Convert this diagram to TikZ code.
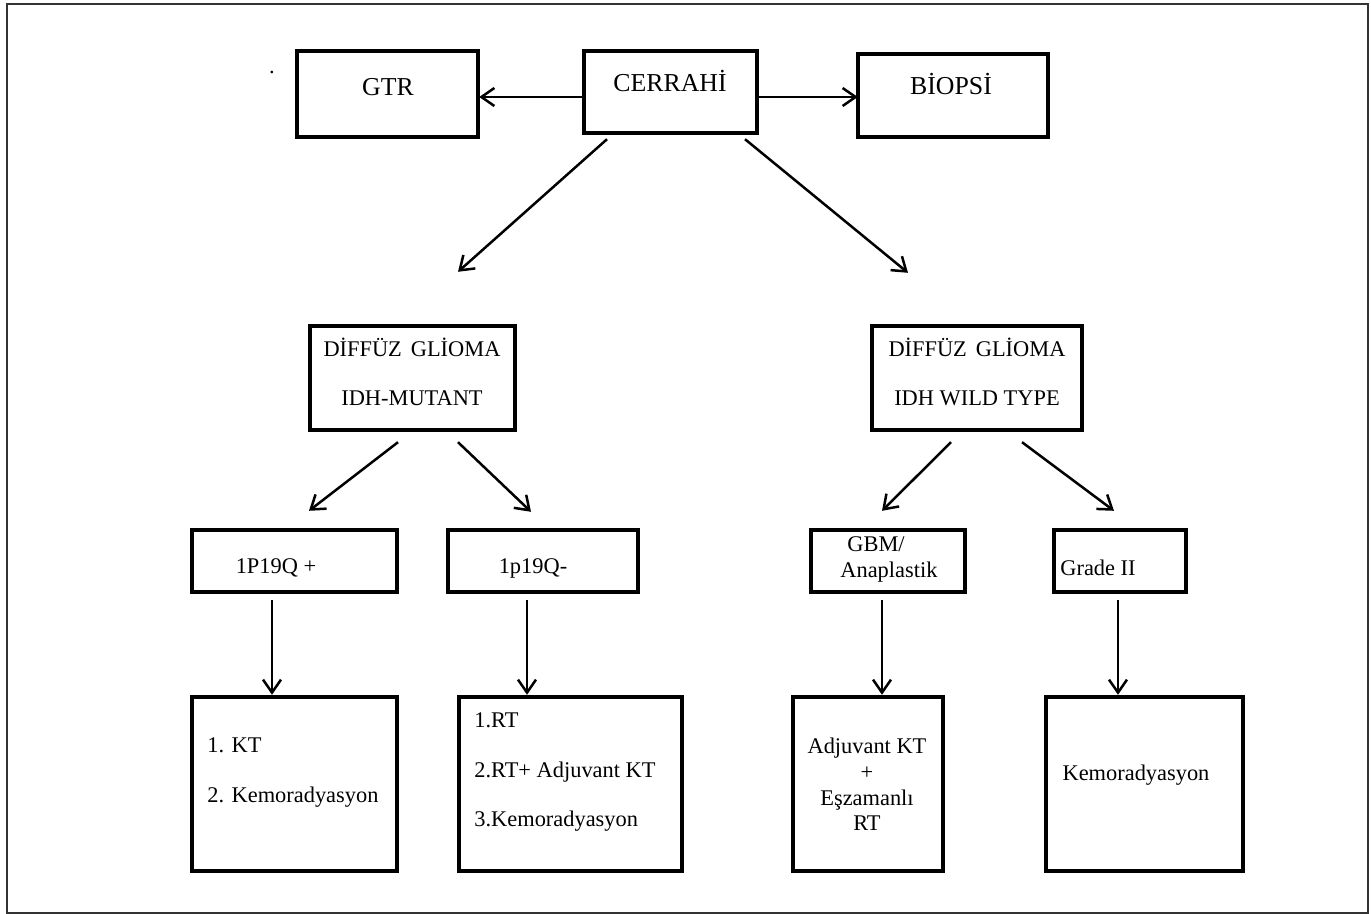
\documentclass[tikz,border=0pt]{standalone}
\usepackage{fontspec}
\setmainfont{Liberation Serif}
\usetikzlibrary{arrows.meta,calc}

\begin{document}
\begin{tikzpicture}
[x=0.5pt,y=-0.5pt,
  boxDecorate/.style={shape=rectangle,draw,line width=1.8pt,inner sep=0pt,outer sep=0pt},
  arrowDecorate/.style={line width=1.25pt,-{Straight Barb[length=6.5pt,width=9pt]}},
  textDecorate/.style={inner sep=0pt,font=\fontsize{11.2}{24.5}\selectfont},
  topText/.style={inner sep=0pt,font=\fontsize{12.9}{15}\selectfont}]
\useasboundingbox (0,0) rectangle (1371,914);
\draw[line width=0.8pt,black!80] (7,4) rectangle (1368,913);
%% boxes
\foreach \nodename/\x/\y/\w/\h in {
  gtr/387.5/94/185/90,
  cerrahi/670.5/92/177/86,
  biopsi/953/95.5/194/87,
  mutant/412.5/378/209/108,
  wild/977/378/214/108,
  p19plus/294.5/561/209/66,
  p19minus/543/561/194/66,
  gbm/888/561/158/66,
  grade/1120/561/136/66,
  kt/294.5/784/209/178,
  rt/570.5/784/227/178,
  adj/868/784/154/178,
  kemo/1144.5/784/201/178}
{
  \node (\nodename) at (\x,\y) [boxDecorate,minimum width=(\w-3.6)*0.5pt,minimum height=(\h-3.6)*0.5pt] {};
}
%% texts
\node (dot) at (272,72) [textDecorate] {.};
\node (gtr-t) at (388,87) [topText] {GTR};
\node (cerrahi-t) at (670,81) [topText] {CERRAHİ};
\node (biopsi-t) at (951,84) [topText] {BİOPSİ};
\node (mutant-t) at (412,371.5) [textDecorate,align=center] {DİFFÜZ\hspace{0.4em}GLİOMA\\IDH-MUTANT};
\node (wild-t) at (977,371.5) [textDecorate,align=center] {DİFFÜZ\hspace{0.4em}GLİOMA\\IDH WILD TYPE};
\node (p19plus-t) at (276,568) [textDecorate] {1P19Q +};
\node (p19minus-t) at (533,568) [textDecorate] {1p19Q-};
\node (gbm-t) at (840,559) [textDecorate,anchor=west,align=left,font=\fontsize{11.2}{13}\selectfont] {\hspace{3.5pt}GBM/\\Anaplastik};
\node (grade-t) at (1098,568) [textDecorate] {Grade II};
\node (kt-t) at (207,773) [textDecorate,anchor=west,align=left,font=\fontsize{11.2}{25}\selectfont] {1. KT\\2. Kemoradyasyon};
\node (rt-t) at (474,772.5) [textDecorate,anchor=west,align=left,font=\fontsize{11.2}{24.75}\selectfont] {1.RT\\2.RT+ Adjuvant KT\\3.Kemoradyasyon};
\node (adj-t) at (867,784.5) [textDecorate,align=center,font=\fontsize{11.2}{12.8}\selectfont] {Adjuvant KT\\+\\Eşzamanlı\\RT};
\node (kemo-t) at (1136,775) [textDecorate] {Kemoradyasyon};
%% arrows
\foreach \startnode/\dxa/\dya/\endnode/\dxb/\dyb in {
  cerrahi.west/0/5/gtr.east/1/3,
  cerrahi.east/1/5/biopsi.west/0/1.5,
  cerrahi.south/-63.5/6/mutant.north/45.5/-54,
  cerrahi.south/74.5/6/wild.north/-69/-53,
  mutant.south/-14.5/12/p19plus.north/14.5/-19,
  mutant.south/45.5/12/p19minus.north/-12/-18,
  wild.south/-26/12/gbm.north/-6/-19,
  wild.south/45/12/grade.north/-6/-19,
  p19plus.south/-22.5/8/kt.north/-22.5/-2,
  p19minus.south/-16/8/rt.north/-43.5/-2,
  gbm.south/-6/8/adj.north/14/-2,
  grade.south/-2/8/kemo.north/-26.5/-2}
{
  \draw[arrowDecorate] ($(\startnode)+(\dxa,\dya)$) -- ($(\endnode)+(\dxb,\dyb)$);
}
\end{tikzpicture}
\end{document}
